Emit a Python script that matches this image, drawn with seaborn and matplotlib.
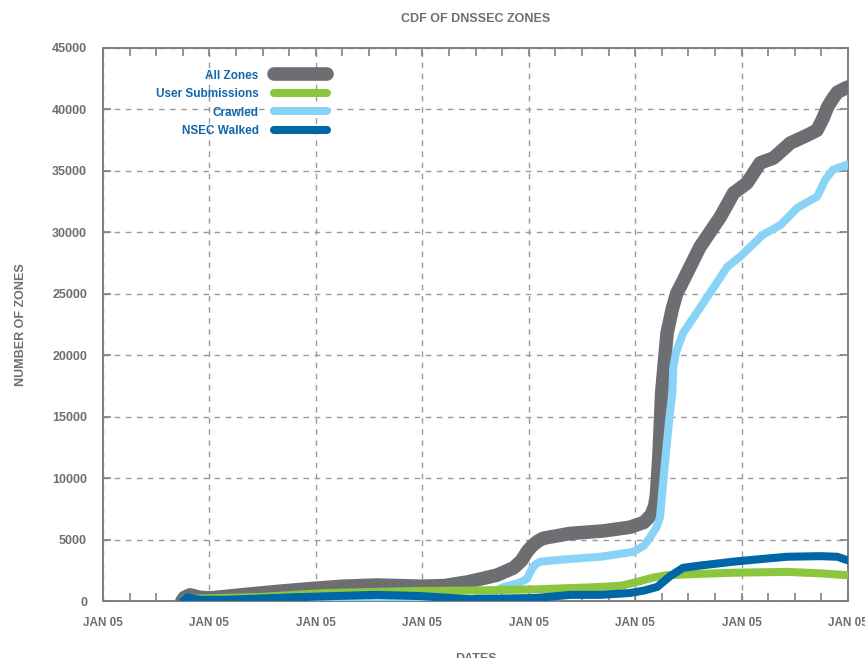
import matplotlib
matplotlib.use("Agg")
import matplotlib.pyplot as plt
from matplotlib.lines import Line2D
from matplotlib.ticker import MultipleLocator, FixedLocator
import seaborn as sns
import pandas as pd

# ---------------- data (months since start, number of zones) ----------------
all_months = [8.9, 9.2, 9.8, 10.9, 12.1, 16.6, 20.0, 23.3, 27.0, 30.9, 33.5, 35.8, 38.5, 41.1,
              44.4, 46.3, 47.2, 47.8, 48.4, 49.0, 49.6, 52.7, 56.4, 59.4, 61.0, 61.8, 62.2, 62.4,
              62.7, 63.0, 63.6, 64.2, 64.7, 65.1, 67.3, 69.6, 71.1, 72.6, 74.1, 75.6, 77.5, 79.4,
              80.5, 81.2, 81.7, 82.3, 82.8, 83.9, 84.5]
all_zones = [0, 300, 500, 300, 250, 570, 800, 1000, 1200, 1300, 1250, 1200, 1250, 1550,
             2100, 2700, 3300, 4000, 4500, 4850, 5100, 5500, 5700, 6000, 6400, 7000, 7700, 8600,
             12000, 17000, 21800, 23800, 25060, 25600, 28800, 31250, 33200, 34000, 35650, 36050, 37270, 37900,
             38300, 39300, 40200, 40900, 41400, 41800, 41900]

user_months = [9.0, 9.2, 10.9, 17.7, 25.3, 34.6, 41.4, 48.9, 56.4, 58.5, 60.2, 62.0, 63.6, 67.0,
               71.1, 77.1, 80.9, 83.9, 84.5]
user_sub = [0, 200, 200, 330, 650, 800, 850, 950, 1150, 1250, 1550, 1900, 2100, 2200,
            2300, 2370, 2250, 2100, 2100]

crawl_months = [9.0, 20.0, 30.0, 40.0, 43.0, 45.0, 47.0, 47.8, 48.2, 48.7, 49.3, 52.3, 56.1, 59.8,
                61.0, 61.7, 62.4, 62.8, 63.2, 63.8, 64.2, 64.3, 64.6, 65.0, 65.4, 68.1, 70.4, 71.8,
                74.4, 76.4, 78.3, 80.5, 81.0, 81.4, 82.3, 83.9, 84.5]
crawled = [0, 0, 0, 0, 300, 1100, 1500, 1800, 2400, 2950, 3200, 3400, 3600, 4000,
           4500, 5200, 6000, 6800, 10000, 14500, 17000, 19000, 20200, 21000, 21800, 24700, 27200, 28000,
           29800, 30600, 32000, 32900, 33600, 34250, 35100, 35500, 35500]

nsec_months = [9.0, 9.5, 10.9, 14.0, 21.4, 27.0, 30.9, 35.8, 41.4, 48.9, 52.7, 56.1, 59.4, 61.0,
               62.5, 63.9, 65.4, 67.5, 71.1, 74.0, 77.1, 80.9, 82.8, 83.9, 84.5]
nsec_walked = [0, 300, 100, 100, 300, 420, 500, 400, 150, 250, 500, 500, 650, 850,
               1150, 2000, 2700, 2900, 3200, 3400, 3600, 3650, 3600, 3330, 3300]

series_names = ["All Zones", "User Submissions", "Crawled", "NSEC Walked"]
x_tick_labels = ["JAN 05"] * 8
y_ticks = [0, 5000, 10000, 15000, 20000, 25000, 30000, 35000, 40000, 45000]

# ---------------- style ----------------
sns.set_style("white")
plt.rcParams['font.family'] = ['Liberation Sans', 'DejaVu Sans']
plt.rcParams['font.weight'] = 'bold'

GRAY = "#6d6e71"
GREEN = "#8cc63f"
LBLUE = "#89d4f6"
DBLUE = "#0067a6"
TXT = "#6d6e71"
LEG_TXT = "#1266a8"

fig = plt.figure(figsize=(8.65, 6.58), dpi=100)
ax = fig.add_axes([103 / 865, 1 - 601 / 658, (848 - 103) / 865, (601 - 48) / 658])

df_all = pd.DataFrame({"month": all_months, "zones": all_zones})
df_user = pd.DataFrame({"month": user_months, "zones": user_sub})
df_crawl = pd.DataFrame({"month": crawl_months, "zones": crawled})
df_nsec = pd.DataFrame({"month": nsec_months, "zones": nsec_walked})

lw_big = 9.8
lw = 5.8
sns.lineplot(data=df_all, x="month", y="zones", ax=ax, color=GRAY, lw=lw_big, zorder=3,
             estimator=None, sort=False, solid_joinstyle='round')
sns.lineplot(data=df_crawl, x="month", y="zones", ax=ax, color=LBLUE, lw=lw, zorder=4,
             estimator=None, sort=False, solid_joinstyle='round')
sns.lineplot(data=df_user, x="month", y="zones", ax=ax, color=GREEN, lw=lw, zorder=5,
             estimator=None, sort=False, solid_joinstyle='round')
sns.lineplot(data=df_nsec, x="month", y="zones", ax=ax, color=DBLUE, lw=lw, zorder=6,
             estimator=None, sort=False, solid_joinstyle='round')

ax.set_xlim(0, 84)
ax.set_ylim(0, 45000)

ax.xaxis.set_major_locator(FixedLocator([0, 12, 24, 36, 48, 60, 72, 84]))
ax.xaxis.set_minor_locator(MultipleLocator(3))
ax.set_xticklabels(x_tick_labels)
ax.set_yticks(y_ticks)
ax.set_yticklabels([str(v) for v in y_ticks])

ax.tick_params(axis='x', which='both', direction='in', top=True, bottom=True,
               length=6, width=1.2, color="#808080", pad=11.5,
               labelsize=8.5, labelcolor=TXT)
ax.tick_params(axis='y', which='both', direction='in', left=True, right=True,
               length=6, width=1.2, color="#808080", pad=11.5,
               labelsize=9, labelcolor=TXT)
for lab in ax.get_xticklabels() + ax.get_yticklabels():
    lab.set_fontweight('bold')

ax.grid(True, which='major', linestyle=(0, (4, 4)), color="#9a9a9a", lw=1.0)
ax.set_axisbelow(True)
for sp in ax.spines.values():
    sp.set_color("#808080")
    sp.set_linewidth(1.4)
    sp.set_visible(True)

ax.set_xlabel("DATES", fontsize=9, fontweight='bold', color=TXT, labelpad=17)
ax.set_ylabel("NUMBER OF ZONES", fontsize=9, fontweight='bold', color=TXT, labelpad=18)
ax.set_title("CDF OF DNSSEC ZONES", fontsize=9, fontweight='bold', color=TXT, pad=18.5)

handles = [
    Line2D([], [], color=GRAY, lw=lw_big, solid_capstyle='round'),
    Line2D([], [], color=GREEN, lw=lw, solid_capstyle='round'),
    Line2D([], [], color=LBLUE, lw=lw, solid_capstyle='round'),
    Line2D([], [], color=DBLUE, lw=lw, solid_capstyle='round'),
]
leg = ax.legend(handles, series_names, loc='upper left', bbox_to_anchor=(0.071, 0.961),
                frameon=False, markerfirst=False, handlelength=4.5, handletextpad=1.3,
                labelspacing=0.55, borderpad=0, borderaxespad=0,
                prop={'weight': 'bold', 'size': 8.5})
for t in leg.get_texts():
    t.set_color(LEG_TXT)
    t.set_ha('right')
leg._legend_box.align = "right"

fig.savefig("out.png", dpi=100)
